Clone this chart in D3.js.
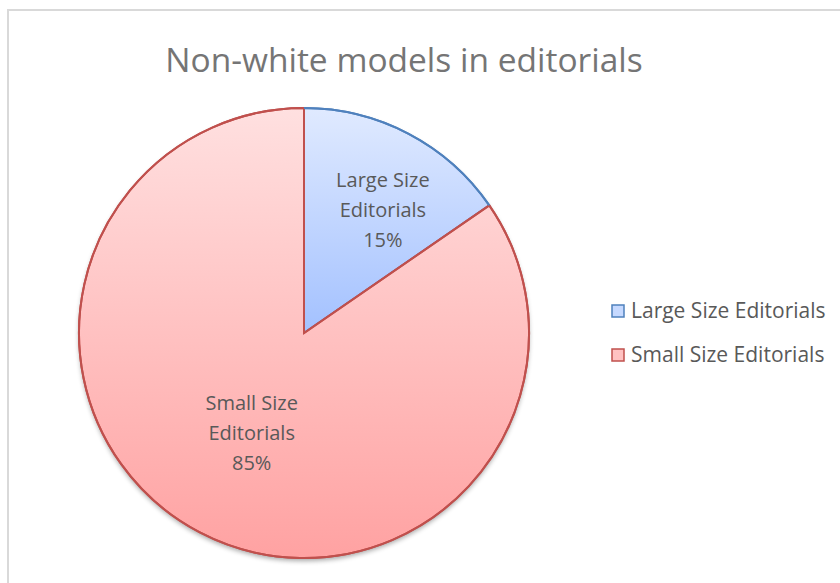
<!DOCTYPE html>
<html>
<head>
<meta charset="utf-8">
<script src="https://cdn.jsdelivr.net/npm/d3@7"></script>
<style>
  body { margin: 0; background: #fff; }
  text { font-family: "Open Sans", sans-serif; fill: #595959; }
</style>
</head>
<body>
<script>
// chart data
var categories = ["Large Size Editorials", "Small Size Editorials"];
var labelLines = [["Large Size", "Editorials"], ["Small Size", "Editorials"]];
var values = [15.4, 84.6];

var width = 840, height = 583;
var cx = 304, cy = 333, radius = 225;

var svg = d3.select("body").append("svg")
    .attr("width", width).attr("height", height);

// frame
svg.append("rect")
    .attr("x", 8).attr("y", 10)
    .attr("width", 840).attr("height", 600)
    .attr("fill", "none")
    .attr("stroke", "#d9d9d9")
    .attr("stroke-width", 2);

var defs = svg.append("defs");

var grads = [
    { id: "gBlue", top: "#e0eaff", bottom: "#a3c1ff" },
    { id: "gRed", top: "#ffe0e0", bottom: "#ffa2a2" }
];
grads.forEach(function (g) {
    var lg = defs.append("linearGradient")
        .attr("id", g.id)
        .attr("x1", 0).attr("y1", 0).attr("x2", 0).attr("y2", 1);
    lg.append("stop").attr("offset", "0%").attr("stop-color", g.top);
    lg.append("stop").attr("offset", "100%").attr("stop-color", g.bottom);
});

var shadow = defs.append("filter").attr("id", "shadow")
    .attr("x", "-10%").attr("y", "-10%").attr("width", "120%").attr("height", "120%");
shadow.append("feGaussianBlur").attr("in", "SourceAlpha").attr("stdDeviation", 2.5);
shadow.append("feOffset").attr("dx", 0).attr("dy", 3).attr("result", "b");
shadow.append("feComponentTransfer").append("feFuncA").attr("type", "linear").attr("slope", 0.35);
var merge = shadow.append("feMerge");
merge.append("feMergeNode");
merge.append("feMergeNode").attr("in", "SourceGraphic");

var fills = ["url(#gBlue)", "url(#gRed)"];
var strokes = ["#4f81bd", "#c0504d"];
var swatchFill = ["#c6d9ff", "#ffc2c2"];

// title
svg.append("text")
    .attr("x", 404).attr("y", 72)
    .attr("text-anchor", "middle")
    .attr("font-size", 33.5)
    .style("fill", "#757575")
    .text("Non-white models in editorials");

var pie = d3.pie().sort(null).value(function (d) { return d; });
var arcs = pie(values);
var arc = d3.arc().innerRadius(0).outerRadius(radius);

var g = svg.append("g").attr("transform", "translate(" + cx + "," + cy + ")");

// shadow under the whole pie
g.append("circle").attr("r", radius).attr("fill", "#fff").attr("filter", "url(#shadow)");

g.selectAll("path.slice")
    .data(arcs)
    .enter()
    .append("path")
    .attr("class", "slice")
    .attr("d", arc)
    .attr("fill", function (d, i) { return fills[i]; })
    .attr("stroke", function (d, i) { return strokes[i]; })
    .attr("stroke-width", 2)
    .attr("stroke-linejoin", "round");

// redraw the red slice's edges on top so the radii look red
g.append("path")
    .datum(arcs[1])
    .attr("d", arc)
    .attr("fill", "none")
    .attr("stroke", strokes[1])
    .attr("stroke-width", 2);
g.append("path")
    .datum(arcs[0])
    .attr("d", d3.arc().innerRadius(radius).outerRadius(radius))
    .attr("fill", "none")
    .attr("stroke", strokes[0])
    .attr("stroke-width", 2);

// data labels
var labelRadius = [0.62, 0.5];
var lbl = g.selectAll("g.lbl")
    .data(arcs)
    .enter()
    .append("g")
    .attr("class", "lbl")
    .attr("transform", function (d, i) {
        var a = (d.startAngle + d.endAngle) / 2;
        var r = radius * labelRadius[i];
        return "translate(" + (Math.sin(a) * r + (i === 0 ? 14 : 0)) + "," + (-Math.cos(a) * r) + ")";
    });

lbl.each(function (d, i) {
    var lines = labelLines[i].concat([Math.round(d.data) + "%"]);
    d3.select(this).selectAll("text")
        .data(lines)
        .enter()
        .append("text")
        .attr("text-anchor", "middle")
        .attr("font-size", 20)
        .attr("y", function (t, j) { return (j - 1) * 30 + 7; })
        .text(function (t) { return t; });
});

// legend
var legend = svg.selectAll("g.legend")
    .data(categories)
    .enter()
    .append("g")
    .attr("class", "legend")
    .attr("transform", function (d, i) { return "translate(612," + (305 + i * 44) + ")"; });

legend.append("rect")
    .attr("width", 12).attr("height", 12)
    .attr("fill", function (d, i) { return swatchFill[i]; })
    .attr("stroke", function (d, i) { return strokes[i]; })
    .attr("stroke-width", 1.5);

legend.append("text")
    .attr("x", 19).attr("y", 13)
    .attr("font-size", 21)
    .text(function (d) { return d; });
</script>
</body>
</html>
